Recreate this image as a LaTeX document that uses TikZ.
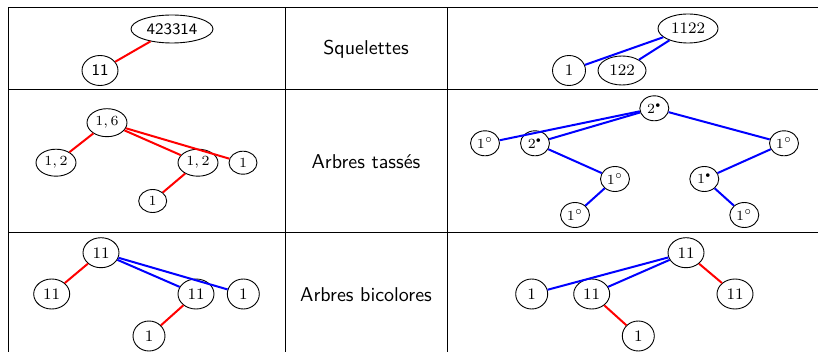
\documentclass[tikz,border=0pt]{standalone}
\usetikzlibrary{shapes.geometric}
\newcommand{\sbul}{\scalebox{0.75}{$\scriptscriptstyle\bullet$}}
\begin{document}
\begin{tikzpicture}[x=0.5pt,y=-0.5pt,
  nd/.style args={#1/#2}{ellipse,draw,line width=0.45pt,inner sep=0pt,minimum width=#1pt,minimum height=#2pt},
  fa/.style={font=\footnotesize\sffamily},
  fb/.style={font=\footnotesize},
  fc/.style={font=\scriptsize},
  rd/.style={red,line width=1pt},
  bl/.style={blue,line width=1pt},
  tab/.style={line width=0.5pt},
  lab/.style={font=\sffamily}]
\useasboundingbox (0,0) rectangle (818,352);
% table
\draw[tab] (8,8) -- (818,8);
\draw[tab] (8,90) -- (818,90);
\draw[tab] (8,232) -- (818,232);
\draw[tab] (8,8) -- (8,352);
\draw[tab] (285,8) -- (285,352);
\draw[tab] (447,8) -- (447,352);
% middle labels
\node[lab] (l1) at (366,49) {Squelettes};
\node[lab] (l2) at (366,162) {Arbres tass\'es};
\node[lab] (l3) at (366,295) {Arbres bicolores};
% row 1 left
\node[nd=41/14, fa] (a1) at (172,29) {423314};
\node[nd=18/15, fa] (a2) at (100,70.5) {11};
\draw[rd] (a1) -- (a2);
% row 1 right
\node[nd=30/14.5, fb] (b1) at (688,28.5) {1122};
\node[nd=16.5/15, fb] (b2) at (569,70.5) {1};
\node[nd=24/14.5, fb] (b3) at (622,70.5) {122};
\draw[bl] (b1) -- (b2);
\draw[bl] (b1) -- (b3);
% row 2 left
\node[nd=20/14, fc] (c1) at (107,122.7) {$1,6$};
\node[nd=20/13.5, fc] (c2) at (56,162.7) {$1,2$};
\node[nd=20/13.5, fc] (c3) at (198,162.7) {$1,2$};
\node[nd=14/11.5, fc] (c4) at (243,162.7) {$1$};
\node[nd=14/11.5, fc] (c5) at (152.7,201) {$1$};
\draw[rd] (c1) -- (c2);
\draw[rd] (c1) -- (c3);
\draw[rd] (c1) -- (c4);
\draw[rd] (c3) -- (c5);
% row 2 right
\node[nd=14.5/12.5, fc] (d1) at (654.3,108.3) {$2^{\sbul}$};
\node[nd=14.5/12.5, fc] (d2) at (485,143.3) {$1^\circ$};
\node[nd=14.5/12.5, fc] (d3) at (535,143.3) {$2^{\sbul}$};
\node[nd=14.5/12.5, fc] (d4) at (784,143.3) {$1^\circ$};
\node[nd=14.5/12.5, fc] (d5) at (615,179) {$1^\circ$};
\node[nd=14.5/12.5, fc] (d6) at (704.3,179) {$1^{\sbul}$};
\node[nd=14.5/12.5, fc] (d7) at (575,215) {$1^\circ$};
\node[nd=14.5/12.5, fc] (d8) at (744.3,215) {$1^\circ$};
\draw[bl] (d1) -- (d2);
\draw[bl] (d1) -- (d3);
\draw[bl] (d1) -- (d4);
\draw[bl] (d3) -- (d5);
\draw[bl] (d5) -- (d7);
\draw[bl] (d4) -- (d6);
\draw[bl] (d6) -- (d8);
% row 3 left
\node[nd=18/15, fb] (e1) at (101,252.7) {11};
\node[nd=18/15, fb] (e2) at (51.7,294) {11};
\node[nd=18/15, fb] (e3) at (196,294) {11};
\node[nd=16/15, fb] (e4) at (243.3,294) {1};
\node[nd=16/15, fb] (e5) at (149,336) {1};
\draw[rd] (e1) -- (e2);
\draw[bl] (e1) -- (e3);
\draw[bl] (e1) -- (e4);
\draw[rd] (e3) -- (e5);
% row 3 right
\node[nd=18/15, fb] (f1) at (686,252.7) {11};
\node[nd=16/15, fb] (f2) at (531.7,294) {1};
\node[nd=18/15, fb] (f3) at (591.7,294) {11};
\node[nd=18/15, fb] (f4) at (735,294) {11};
\node[nd=16/15, fb] (f5) at (638.3,336) {1};
\draw[bl] (f1) -- (f2);
\draw[bl] (f1) -- (f3);
\draw[rd] (f1) -- (f4);
\draw[rd] (f3) -- (f5);
\end{tikzpicture}
\end{document}
